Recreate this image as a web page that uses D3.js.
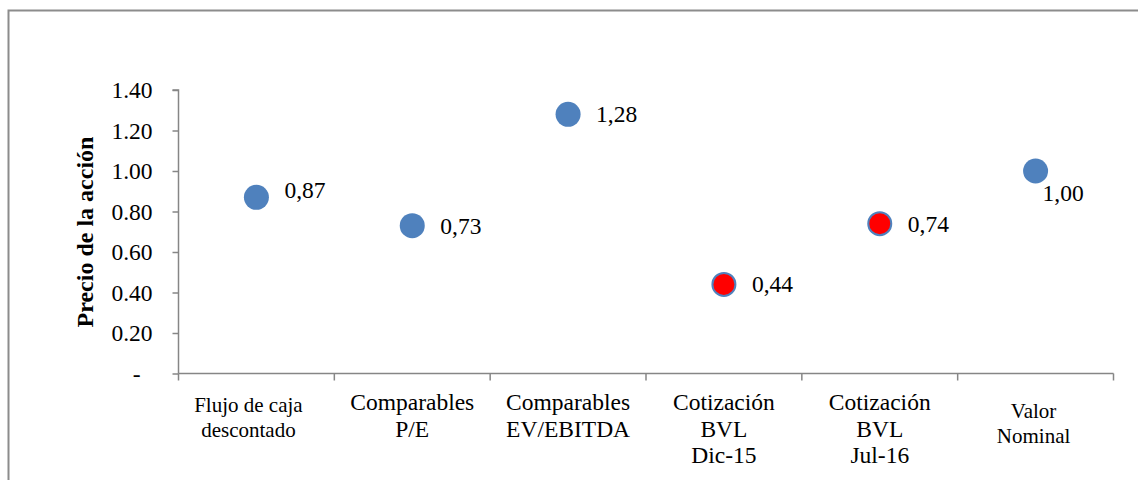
<!DOCTYPE html>
<html>
<head>
<meta charset="utf-8">
<script src="https://cdn.jsdelivr.net/npm/d3@7"></script>
<style>
  html, body { margin: 0; padding: 0; background: #fff; }
  svg { display: block; }
  text { font-family: "Liberation Serif", "Times New Roman", serif; fill: #000; }
</style>
</head>
<body>
<svg id="chart" width="1138" height="480"></svg>
<script>
// Métodos de valoración y precio por acción resultante
const categories = [
  ["Flujo de caja", "descontado"],
  ["Comparables", "P/E"],
  ["Comparables", "EV/EBITDA"],
  ["Cotización", "BVL", "Dic-15"],
  ["Cotización", "BVL", "Jul-16"],
  ["Valor", "Nominal"]
];
const prices = [0.87, 0.73, 1.28, 0.44, 0.74, 1.00];
const priceLabels = ["0,87", "0,73", "1,28", "0,44", "0,74", "1,00"];
const isMarket = [false, false, false, true, true, false];
const yTicks = [0, 0.2, 0.4, 0.6, 0.8, 1.0, 1.2, 1.4];
const yTitle = "Precio de la acción";

const svg = d3.select("#chart");
const plot = { left: 178.5, right: 1113.5, top: 90, bottom: 373.5 };
const axisColor = "#868686";
const blue = "#4F81BD";

// marco exterior del gráfico
svg.append("path")
  .attr("d", "M8.5,480 L8.5,10.5 L1138,10.5")
  .attr("fill", "none")
  .attr("stroke", "#8c8c8c")
  .attr("stroke-width", 2);

const keys = categories.map((c, i) => i);
const x = d3.scaleBand().domain(keys).range([plot.left, plot.right]).padding(0);
const y = d3.scaleLinear().domain([0, 1.4]).range([plot.bottom, plot.top]);

// eje Y
const yAxis = svg.append("g")
  .attr("transform", `translate(${plot.left},0)`)
  .call(d3.axisLeft(y).tickValues(yTicks).tickSize(6).tickPadding(20)
    .tickFormat(d => d === 0 ? "-" : d.toFixed(2)));
yAxis.select(".domain").attr("stroke", axisColor).attr("stroke-width", 1.5)
  .attr("d", `M-6,${plot.top}H0V${plot.bottom}`);
yAxis.selectAll(".tick line").attr("stroke", axisColor).attr("stroke-width", 1.5);
yAxis.selectAll(".tick text")
  .attr("font-size", 23.5)
  .attr("font-family", "Liberation Serif")
  .attr("dx", d => d === 0 ? -12 : 0)
  .attr("dy", "0.33em");

// eje X: línea base y marcas en los bordes de cada categoría
const xAxis = svg.append("g");
xAxis.append("line")
  .attr("x1", plot.left).attr("x2", plot.right)
  .attr("y1", y(0)).attr("y2", y(0))
  .attr("stroke", axisColor).attr("stroke-width", 1.5);
const edges = keys.map(k => x(k)).concat([x(keys[keys.length - 1]) + x.bandwidth()]);
xAxis.selectAll("line.tick").data(edges).enter().append("line")
  .attr("class", "tick")
  .attr("x1", d => d).attr("x2", d => d)
  .attr("y1", y(0)).attr("y2", y(0) + 7)
  .attr("stroke", axisColor).attr("stroke-width", 1.5);

// etiquetas de categoría
const catStyle = [
  { size: 21, base: 411.5, step: 25, dx: -8 },
  { size: 23.5, base: 410, step: 26.5, dx: 0 },
  { size: 23.5, base: 410, step: 26.5, dx: 0 },
  { size: 23.5, base: 410, step: 26.5, dx: 0 },
  { size: 23.5, base: 410, step: 26.5, dx: 0 },
  { size: 21, base: 418, step: 25, dx: -2 }
];
const catG = svg.append("g").selectAll("text").data(categories).enter().append("text")
  .attr("text-anchor", "middle")
  .attr("font-size", (d, i) => catStyle[i].size)
  .attr("x", (d, i) => x(i) + x.bandwidth() / 2 + catStyle[i].dx)
  .attr("y", (d, i) => catStyle[i].base);
catG.each(function(lines, i) {
  const t = d3.select(this);
  lines.forEach((ln, j) => {
    t.append("tspan")
      .attr("x", x(i) + x.bandwidth() / 2 + catStyle[i].dx)
      .attr("y", catStyle[i].base + j * catStyle[i].step)
      .text(ln);
  });
});

// título del eje Y
svg.append("text")
  .attr("transform", "translate(93,232) rotate(-90)")
  .attr("text-anchor", "middle")
  .attr("font-size", 24)
  .attr("font-weight", "bold")
  .text(yTitle);

// puntos
const cx = i => x(i) + x.bandwidth() / 2;
svg.append("g").selectAll("circle").data(prices).enter().append("circle")
  .attr("cx", (d, i) => cx(i))
  .attr("cy", d => y(d))
  .attr("r", (d, i) => isMarket[i] ? 11.5 : 12.5)
  .attr("fill", (d, i) => isMarket[i] ? "#FF0000" : blue)
  .attr("stroke", (d, i) => isMarket[i] ? blue : "none")
  .attr("stroke-width", 2);

// etiquetas de valor
const labelOffset = [
  { dx: 28, dy: 1 },
  { dx: 28, dy: 8 },
  { dx: 28, dy: 8 },
  { dx: 28, dy: 8 },
  { dx: 28, dy: 8 },
  { dx: 7, dy: 30 }
];
svg.append("g").selectAll("text").data(prices).enter().append("text")
  .attr("x", (d, i) => cx(i) + labelOffset[i].dx)
  .attr("y", (d, i) => y(d) + labelOffset[i].dy)
  .attr("font-size", 23.5)
  .text((d, i) => priceLabels[i]);
</script>
</body>
</html>
